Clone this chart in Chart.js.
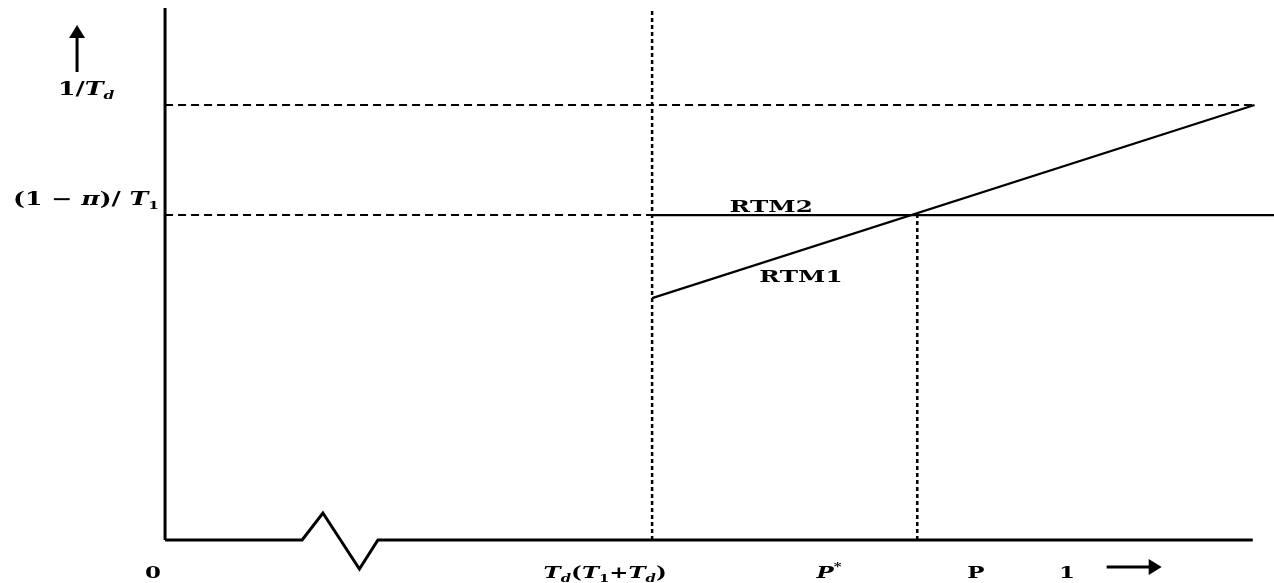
<!DOCTYPE html>
<html>
<head>
<meta charset="utf-8">
<script src="https://cdn.jsdelivr.net/npm/chart.js@4"></script>
<style>
  html, body { margin: 0; background: #fff; }
  #wrap { width: 1274px; height: 583px; }
</style>
</head>
<body>
<div id="wrap"><canvas id="diagram"></canvas></div>
<script>
// Diagram units: x = 1 at the "1" tick, y = 1 at the 1/Td level
const xRange = [-0.183, 1.2295];
const yRange = [-0.099, 1.2414];

const threshold = 0.54;   // Td/(T1+Td)
const pStar = 0.834;
const xEnd = 1.206;
const yTop = 1.223;
const invTd = 1.0;
const rtm2Level = 0.747;  // (1 - pi)/T1

const rtm1X = [0.54, 1.208];
const rtm1Y = [0.556, 1.0];
const rtm2X = [0.54, 1.2295];
const rtm2Y = [0.747, 0.747];

// x axis with the break mark
const xAxisX = [0, 0.152, 0.175, 0.2155, 0.236, 1.206];
const xAxisY = [0, 0, 0.062, -0.0667, 0, 0];

const xTickLabels = ['0', 'T_d(T_1+T_d)', 'P^*', 'P', '1'];
const xTickValues = [-0.0133, 0.488, 0.736, 0.899, 1.0];
const yTickLabels = ['1/T_d', '(1 − π)/ T_1'];
const yTickValues = [1.0, 0.747];

const curveLabels = ['RTM2', 'RTM1'];
const curveLabelX = [0.672, 0.705];
const curveLabelY = [0.753, 0.592];

// Helper: build a line dataset from two arrays
function line(xs, ys, extra) {
    return Object.assign({
        data: xs.map((v, i) => ({ x: v, y: ys[i] })),
        showLine: true,
        pointRadius: 0,
        borderColor: '#000',
        borderWidth: 2,
        fill: false,
        tension: 0,
    }, extra);
}

// Parse a label: "_" = subscript next char, "^" = superscript next char
function parseLabel(str, plain) {
    const segs = [];
    for (let i = 0; i < str.length; i++) {
        let ch = str[i], mode = 'n';
        if (ch === '_' || ch === '^') {
            mode = ch === '_' ? 'sub' : 'sup';
            ch = str[++i];
        }
        const italic = !plain && ('Tπd'.includes(ch) || (ch === 'P' && str[i + 1] === '^'));
        segs.push({ ch, mode, italic });
    }
    return segs;
}

function drawLabel(ctx, str, cx, baseline, size, stretch, plain) {
    const segs = parseLabel(str, plain);
    const fontFor = s => (s.italic ? 'italic ' : '') + 'bold ' +
        (s.mode === 'n' ? size : Math.round(size * 0.62)) + 'px "DejaVu Serif", serif';
    let w = 0;
    segs.forEach(s => {
        ctx.font = fontFor(s);
        s.w = ctx.measureText(s.ch).width;
        w += s.w;
    });
    ctx.save();
    ctx.translate(cx - w * stretch / 2, baseline);
    ctx.scale(stretch, 1);
    ctx.textAlign = 'left';
    ctx.textBaseline = 'alphabetic';
    ctx.fillStyle = '#000';
    let px = 0;
    segs.forEach(s => {
        ctx.font = fontFor(s);
        const dy = s.mode === 'sub' ? size * 0.22 : s.mode === 'sup' ? -size * 0.45 : 0;
        ctx.fillText(s.ch, px, dy);
        px += s.w;
    });
    ctx.restore();
}

function arrow(ctx, x1, y1, x2, y2) {
    const ang = Math.atan2(y2 - y1, x2 - x1);
    const head = 12, half = 8;
    ctx.save();
    ctx.strokeStyle = '#000';
    ctx.fillStyle = '#000';
    ctx.lineWidth = 3;
    ctx.beginPath();
    ctx.moveTo(x1, y1);
    ctx.lineTo(x2 - head * Math.cos(ang), y2 - head * Math.sin(ang));
    ctx.stroke();
    ctx.translate(x2, y2);
    ctx.rotate(ang);
    ctx.beginPath();
    ctx.moveTo(0, 0);
    ctx.lineTo(-head - 1, -half);
    ctx.lineTo(-head - 1, half);
    ctx.closePath();
    ctx.fill();
    ctx.restore();
}

// Draws tick labels, curve labels and the axis arrows
const labelsPlugin = {
    id: 'diagramLabels',
    afterDraw(chart) {
        const ctx = chart.ctx;
        const x = chart.scales.x, y = chart.scales.y;
        const x0 = x.getPixelForValue(0), y0 = y.getPixelForValue(0);

        xTickLabels.forEach((lab, i) => {
            drawLabel(ctx, lab, x.getPixelForValue(xTickValues[i]), y0 + 38, 17, 1.35);
        });
        yTickLabels.forEach((lab, i) => {
            drawLabel(ctx, lab, x0 - 79, y.getPixelForValue(yTickValues[i]) - 10, 18, 1.4);
        });
        curveLabels.forEach((lab, i) => {
            drawLabel(ctx, lab, x.getPixelForValue(curveLabelX[i]), y.getPixelForValue(curveLabelY[i]), 17, 1.45, true);
        });

        // axis direction arrows
        arrow(ctx, x0 - 88, y.getPixelForValue(invTd) - 33, x0 - 88, y.getPixelForValue(invTd) - 80);
        arrow(ctx, x.getPixelForValue(1.044), y0 + 27, x.getPixelForValue(1.105), y0 + 27);
    }
};

new Chart(document.getElementById('diagram'), {
    type: 'scatter',
    data: {
        datasets: [
            line([0, 0], [0, yTop], { borderWidth: 3 }),
            line(xAxisX, xAxisY, { borderWidth: 3 }),
            line([threshold, threshold], [0, yTop], { borderWidth: 2.5, borderDash: [4, 3] }),
            line([pStar, pStar], [0, rtm2Level], { borderWidth: 2.5, borderDash: [4, 3] }),
            line([0, xEnd], [invTd, invTd], { borderWidth: 2, borderDash: [8, 5] }),
            line([0, threshold], [rtm2Level, rtm2Level], { borderWidth: 2, borderDash: [8, 5] }),
            line(rtm2X, rtm2Y, { borderWidth: 2.2 }),
            line(rtm1X, rtm1Y, { borderWidth: 2.2 }),
        ]
    },
    options: {
        responsive: true,
        maintainAspectRatio: false,
        animation: false,
        layout: { padding: 0 },
        plugins: { legend: { display: false }, tooltip: { enabled: false } },
        scales: {
            x: { type: 'linear', display: false, min: xRange[0], max: xRange[1] },
            y: { type: 'linear', display: false, min: yRange[0], max: yRange[1] }
        }
    },
    plugins: [labelsPlugin]
});
</script>
</body>
</html>
